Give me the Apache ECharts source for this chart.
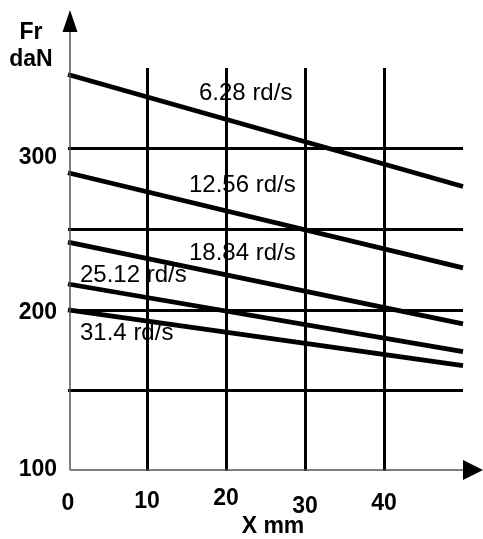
<!DOCTYPE html>
<html><head><meta charset="utf-8">
<script src="https://cdn.jsdelivr.net/npm/echarts@6/dist/echarts.min.js"></script>
<style>html,body{margin:0;padding:0;background:#fff}#c{width:483px;height:539px}</style>
</head><body><div id="c"></div>
<script>
// ---- data ----
const xPoints = [0, 50];
const speedLabels = ['6.28 rd/s', '12.56 rd/s', '18.84 rd/s', '25.12 rd/s', '31.4 rd/s'];
const force628 = [346, 276.5];
const force1256 = [285, 226];
const force1884 = [242, 191.3];
const force2512 = [216, 174];
const force314 = [200, 165.4];
const xTickLabels = [0, 10, 20, 30, 40];
const yTickLabels = [100, 200, 300];
const xName = 'X mm';
const yName = 'Fr\ndaN';

// ---- layout (pixel positions / offsets of annotations) ----
const labelPos = [[199, 93], [189, 185], [189, 253], [80, 275], [80, 333]];
const xLabelPad = { 0: 5, 10: 3, 20: 0, 30: 8, 40: 5 };
const yLabelShift = { 100: -1, 200: 3, 300: 9 };
const FONT = "'Liberation Sans', Arial, sans-serif";

const xRich = {};
Object.keys(xLabelPad).forEach(k => { xRich['p' + k] = { padding: [xLabelPad[k], 0, 0, 0] }; });
const yRich = {};
Object.keys(yLabelShift).forEach(k => {
  const s = yLabelShift[k];
  yRich['p' + k] = { padding: s >= 0 ? [2 * s, 0, 0, 0] : [0, 0, -2 * s, 0] };
});

const allSeries = [force628, force1256, force1884, force2512, force314];
const chart = echarts.init(document.getElementById('c'), null, { renderer: 'canvas' });

chart.setOption({
  animation: false,
  backgroundColor: '#fff',
  grid: { left: 68, right: 20, top: 68, bottom: 68, containLabel: false },
  xAxis: {
    type: 'value', min: 0, max: 50, interval: 10,
    axisLine: { show: false }, axisTick: { show: false },
    axisLabel: {
      margin: 16, color: '#000', fontSize: 23, fontWeight: 'bold', fontFamily: FONT,
      formatter: v => xTickLabels.includes(v) ? '{p' + v + '|' + v + '}' : '',
      rich: xRich
    },
    splitLine: { show: true, showMinLine: false, showMaxLine: false, lineStyle: { color: '#000', width: 3 } }
  },
  yAxis: {
    type: 'value', min: 100, max: 350, interval: 50,
    axisLine: { show: false }, axisTick: { show: false },
    axisLabel: {
      margin: 11, color: '#000', fontSize: 23, fontWeight: 'bold', fontFamily: FONT,
      formatter: v => yTickLabels.includes(v) ? '{p' + v + '|' + v + '}' : '',
      rich: yRich
    },
    splitLine: { show: true, showMinLine: false, showMaxLine: false, lineStyle: { color: '#000', width: 3 } }
  },
  series: allSeries.map((arr, i) => ({
    name: speedLabels[i], type: 'line', showSymbol: false, symbol: 'none',
    data: xPoints.map((x, j) => [x, arr[j]]),
    lineStyle: { color: '#000', width: 4.8 }, z: 3
  }))
});

const o = chart.convertToPixel({ gridIndex: 0 }, [0, 100]);
const tr = chart.convertToPixel({ gridIndex: 0 }, [50, 350]);
const gx = o[0] + 2, gy = o[1] - 1;
chart.setOption({
  graphic: [
    { type: 'line', shape: { x1: gx, y1: gy, x2: gx, y2: 28 }, style: { stroke: '#555', lineWidth: 1.5 }, z: 10 },
    { type: 'polygon', shape: { points: [[gx, 10], [gx - 7.5, 32], [gx + 7.5, 32]] }, style: { fill: '#000' }, z: 10 },
    { type: 'line', shape: { x1: gx, y1: gy, x2: tr[0] + 2, y2: gy }, style: { stroke: '#555', lineWidth: 1.5 }, z: 10 },
    { type: 'polygon', shape: { points: [[483, gy], [tr[0], gy - 10], [tr[0], gy + 10]] }, style: { fill: '#000' }, z: 10 },
    { type: 'text', x: 273, y: 527, style: { text: xName, font: 'bold 23px ' + FONT, fill: '#000', align: 'center', verticalAlign: 'middle' }, z: 10 },
    { type: 'text', x: 31, y: 46, style: { text: yName, font: 'bold 23px ' + FONT, fill: '#000', align: 'center', verticalAlign: 'middle', lineHeight: 27 }, z: 10 }
  ].concat(speedLabels.map((t, i) => ({
    type: 'text', x: labelPos[i][0], y: labelPos[i][1],
    style: { text: t, font: '24px ' + FONT, fill: '#000', align: 'left', verticalAlign: 'middle' }, z: 10
  })))
});
</script></body></html>
